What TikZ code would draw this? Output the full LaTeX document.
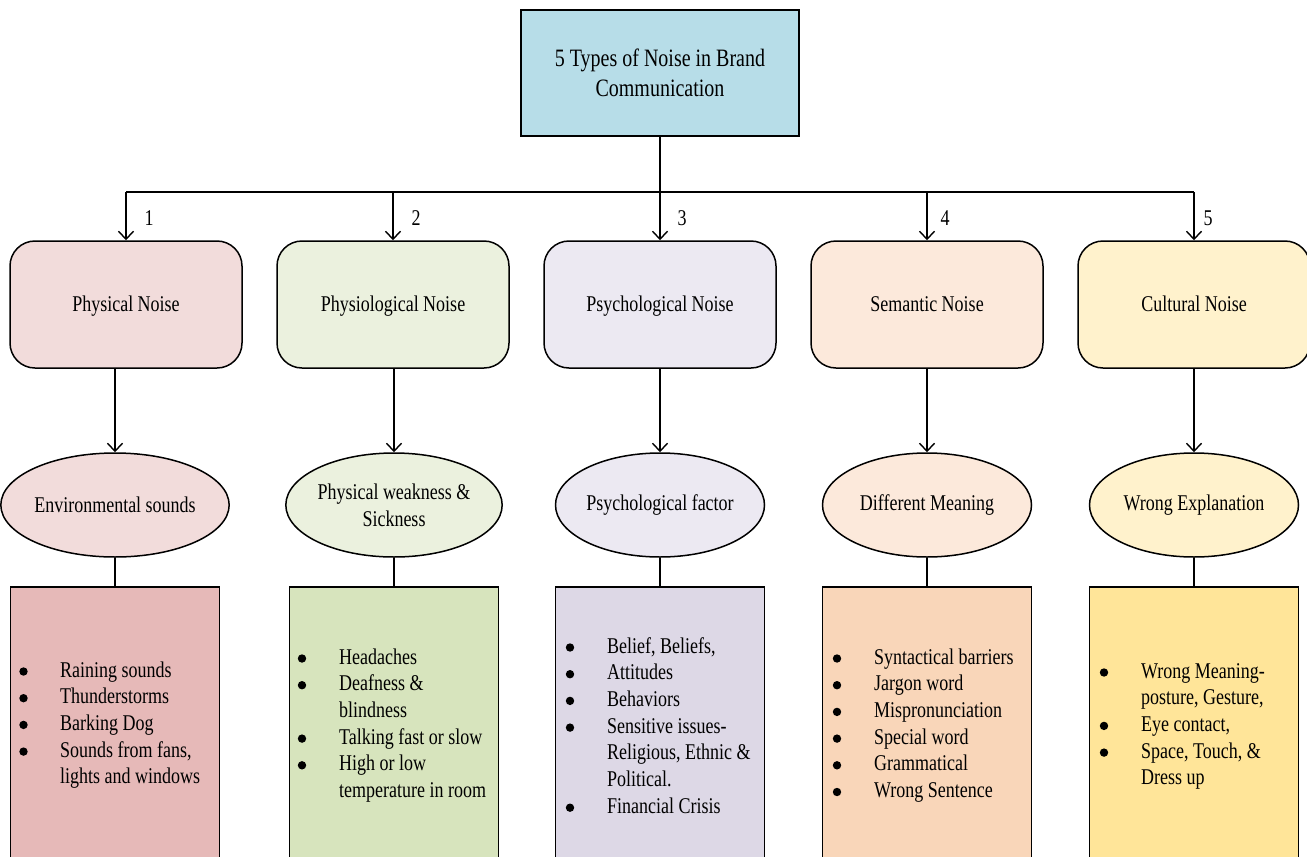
\documentclass[tikz,border=0pt]{standalone}
\usepackage{fontspec}
\setmainfont{Liberation Serif}[FakeStretch=0.8]
\usetikzlibrary{shapes.geometric,arrows.meta}
\definecolor{topc}{HTML}{B7DDE8}
\definecolor{aL}{HTML}{F2DCDB}\definecolor{aD}{HTML}{E6B9B8}
\definecolor{bL}{HTML}{EBF1DE}\definecolor{bD}{HTML}{D7E4BD}
\definecolor{cL}{HTML}{ECE9F2}\definecolor{cD}{HTML}{DDD8E6}
\definecolor{dL}{HTML}{FCE9DB}\definecolor{dD}{HTML}{F9D6B9}
\definecolor{eL}{HTML}{FFF2CC}\definecolor{eD}{HTML}{FFE599}
\tikzset{
  conn/.style={line width=1.4pt},
  arr/.style={conn,-{Straight Barb[length=8pt,width=15pt,line width=1.4pt]}},
  topbox/.style={draw,line width=1.5pt,fill=topc,minimum width=278pt,minimum height=126pt,
    align=center,font=\fontsize{25}{30}\selectfont},
  noisebox/.style={draw,line width=1.5pt,rounded corners=25pt,minimum width=232pt,minimum height=127pt,
    align=center,font=\fontsize{22.5}{27}\selectfont,text height=17pt,text depth=3pt},
  causeell/.style={ellipse,draw,line width=1.5pt,minimum width=209pt,minimum height=104pt,inner sep=0pt,
    align=center,font=\fontsize{22.5}{27}\selectfont},
  listbox/.style={draw,line width=1.5pt,anchor=north,minimum width=209pt,minimum height=330pt},
  listtext/.style={anchor=base west,inner sep=0pt,font=\fontsize{22.5}{26.7}\selectfont},
  numlabel/.style={font=\fontsize{22.5}{27}\selectfont,inner sep=0pt},
  bulletdot/.style={fill=black}
}
\newcommand{\bullets}[3]{% x, first baseline, rows
  \foreach \r in {#3}{\fill[bulletdot] ({#1},{#2-5.5+26.7*\r}) circle (4.2pt);}}
\begin{document}
\begin{tikzpicture}[x=1pt,y=-1pt]
\useasboundingbox (0,0) rectangle (1307,857);
\clip (0,0) rectangle (1307,857);
\node[topbox] (top) at (660,73) {5 Types of Noise in Brand\\Communication};
\coordinate (hub) at (660,192);

\node[noisebox,fill=aL] (n1) at (126,304.5) {Physical Noise};
\node[noisebox,fill=bL] (n2) at (393,304.5) {Physiological Noise};
\node[noisebox,fill=cL] (n3) at (660,304.5) {Psychological Noise};
\node[noisebox,fill=dL] (n4) at (927,304.5) {Semantic Noise};
\node[noisebox,fill=eL] (n5) at (1194,304.5) {Cultural Noise};

\node[numlabel] (k1) at (149,218) {1};
\node[numlabel] (k2) at (416,218) {2};
\node[numlabel] (k3) at (682,218) {3};
\node[numlabel] (k4) at (945,218) {4};
\node[numlabel] (k5) at (1208,218) {5};

\node[causeell,fill=aL] (e1) at (115,505) {Environmental sounds};
\node[causeell,fill=bL] (e2) at (394,505) {Physical weakness \&\\Sickness};
\node[causeell,fill=cL] (e3) at (660,505) {Psychological factor};
\node[causeell,fill=dL] (e4) at (927,505) {Different Meaning};
\node[causeell,fill=eL] (e5) at (1194,505) {Wrong Explanation};

\node[listbox,fill=aD] (l1) at (115,586) {};
\node[listbox,fill=bD] (l2) at (394,586) {};
\node[listbox,fill=cD] (l3) at (660,586) {};
\node[listbox,fill=dD] (l4) at (927,586) {};
\node[listbox,fill=eD] (l5) at (1194,586) {};

\draw[conn] (top.south) -- (hub);
\draw[conn] (n1.north |- hub) -- (n5.north |- hub);
\foreach \i in {1,...,5}{
  \draw[arr] (n\i.north |- hub) -- (n\i.north);
  \draw[arr] (e\i.north |- n\i.south) -- (e\i.north);
  \draw[conn] (e\i.south) -- (l\i.north);
}

\node[listtext] (t1) at (60,677) {\begin{tabular}[t]{@{}l@{}}
Raining sounds\\
Thunderstorms\\
Barking Dog\\
Sounds from fans,\\
lights and windows
\end{tabular}};
\bullets{23.5}{677}{0,1,2,3}
\node[listtext] (t2) at (339,664) {\begin{tabular}[t]{@{}l@{}}
Headaches\\
Deafness \&\\
blindness\\
Talking fast or slow\\
High or low\\
temperature in room
\end{tabular}};
\bullets{302}{664}{0,1,3,4}
\node[listtext] (t3) at (607,653) {\begin{tabular}[t]{@{}l@{}}
Belief, Beliefs,\\
Attitudes\\
Behaviors\\
Sensitive issues-\\
Religious, Ethnic \&\\
Political.\\
Financial Crisis
\end{tabular}};
\bullets{570}{653}{0,1,2,3,6}
\node[listtext] (t4) at (874,664) {\begin{tabular}[t]{@{}l@{}}
Syntactical barriers\\
Jargon word\\
Mispronunciation\\
Special word\\
Grammatical\\
Wrong Sentence
\end{tabular}};
\bullets{837}{664}{0,1,2,3,4,5}
\node[listtext] (t5) at (1141,678) {\begin{tabular}[t]{@{}l@{}}
Wrong Meaning-\\
posture, Gesture,\\
Eye contact,\\
Space, Touch, \&\\
Dress up
\end{tabular}};
\bullets{1104}{678}{0,2,3}
\end{tikzpicture}
\end{document}
